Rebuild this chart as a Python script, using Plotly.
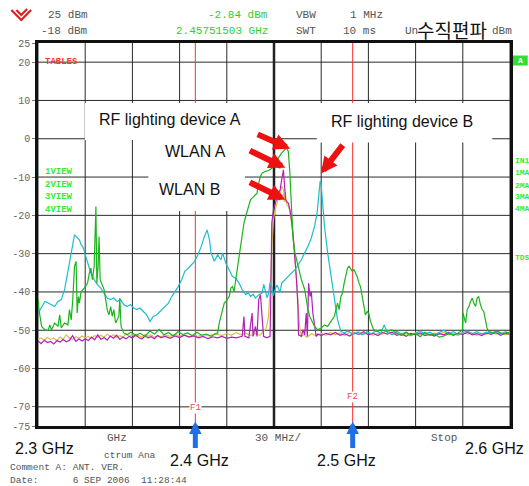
import plotly.graph_objects as go

# ---------------- data (frequency in MHz, level in dBm) ----------------
CYAN_F = [2300.2, 2302.3, 2304.4, 2306.5, 2308.6, 2310.6, 2312.7, 2314.8, 2316.9, 2318.0,
          2319.0, 2320.0, 2321.1, 2322.1, 2323.2, 2324.2, 2325.2, 2326.3, 2327.4, 2328.4,
          2329.4, 2331.5, 2333.6, 2335.7, 2337.8, 2339.9, 2342.0, 2344.0, 2346.2, 2348.2,
          2350.3, 2352.4, 2354.5, 2356.6, 2358.7, 2360.8, 2362.8, 2364.9, 2367.0, 2369.1,
          2371.2, 2373.3, 2375.3, 2376.6, 2378.7, 2380.8, 2382.9, 2385.0, 2387.1, 2389.1,
          2391.3, 2393.3, 2395.4, 2397.5, 2399.6, 2401.6, 2403.8, 2405.8, 2407.5, 2409.0,
          2410.0, 2412.1, 2414.2, 2416.3, 2417.3, 2419.4, 2421.5, 2423.6, 2425.7, 2427.8,
          2429.8, 2432.0, 2433.6, 2435.1, 2436.7, 2438.2, 2440.3, 2442.4, 2443.5, 2444.5,
          2445.6, 2446.6, 2447.5, 2448.6, 2449.5, 2450.7, 2451.8, 2452.8, 2453.8, 2454.9,
          2457.0, 2459.1, 2461.1, 2463.3, 2465.3, 2467.4, 2469.5, 2471.6, 2473.7, 2475.8,
          2477.4, 2478.3, 2479.3, 2479.9, 2481.0, 2482.1, 2484.1, 2486.2, 2488.3, 2490.4,
          2492.5, 2494.6, 2497, 2500, 2503, 2506, 2509, 2512, 2515, 2518,
          2520, 2522, 2525, 2528, 2531, 2534, 2537, 2540, 2543, 2546,
          2549, 2552, 2555, 2558, 2561, 2564, 2567, 2570, 2573, 2576,
          2579, 2582, 2585, 2588, 2591, 2594, 2597, 2600]
CYAN_L = [-45.5, -43.8, -42.5, -42.9, -43.3, -43.8, -42.5, -42.0, -39.4, -36.8,
          -34.2, -32.0, -29.0, -26.8, -25.1, -25.5, -25.9, -26.4, -27.7, -28.1,
          -29.4, -32.0, -35.1, -36.8, -38.1, -39.0, -40.3, -41.6, -42.0, -41.6,
          -42.5, -42.0, -43.3, -43.8, -43.3, -44.2, -44.6, -44.2, -45.1, -46.0,
          -47.7, -46.4, -46.0, -45.5, -44.6, -43.8, -42.9, -41.2, -39.9, -38.6,
          -36.8, -34.6, -33.8, -32.9, -32.0, -30.3, -28.1, -25.5, -23.8, -26.4,
          -29.8, -32.0, -30.3, -31.6, -29.8, -32.5, -34.2, -36.0, -36.4, -37.7,
          -39.4, -40.7, -40.2, -41.2, -40.6, -41.6, -40.7, -40.3, -38.0, -39.4,
          -41.5, -40.3, -37.5, -38.6, -41.0, -39.4, -38.2, -39.0, -40.2, -37.7,
          -36.8, -36.0, -35.1, -34.2, -32.9, -31.6, -29.8, -28.1, -25.9, -22.9,
          -19.4, -14.2, -11.1, -11.6, -17.7, -22.9, -29.8, -36.0, -42.0, -47.3,
          -50.3, -50.7, -50.2, -51.0, -50.5, -51.2, -50.4, -50.9, -50.1, -50.8,
          -48.6, -50.6, -51.1, -50.3, -50.9, -50.5, -51.3, -50.7, -50.2, -51.0,
          -50.5, -51.2, -50.6, -50.0, -50.9, -50.4, -51.1, -50.6, -50.2, -50.9,
          -50.4, -51.0, -50.5, -50.8, -50.3, -50.9, -50.4, -50.7]

GREEN_F = [2300.2, 2300.6, 2302.3, 2304.4, 2306.5, 2307.5, 2308.6, 2310.6, 2312.7, 2313.8,
           2314.8, 2316.9, 2319.0, 2320.0, 2321.1, 2322.1, 2323.2, 2324.2, 2324.9, 2325.7,
           2326.3, 2327.4, 2329.4, 2331.5, 2332.6, 2333.6, 2334.6, 2335.7, 2336.8, 2337.4,
           2338.2, 2338.8, 2339.5, 2340.9, 2342.0, 2343.0, 2344.0, 2345.1, 2346.2, 2347.2,
           2348.2, 2349.3, 2350.3, 2351.4, 2352.0, 2352.8, 2354.5, 2356.6, 2359, 2362,
           2365, 2368, 2371, 2374, 2377, 2380, 2383, 2386, 2389, 2392,
           2395, 2398, 2401, 2404, 2407, 2410, 2412.5, 2414.2, 2415.2, 2416.3,
           2417.3, 2418.4, 2419.4, 2420.4, 2421.5, 2422.6, 2423.6, 2424.6, 2425.7, 2426.7,
           2427.8, 2428.8, 2429.8, 2430.9, 2432.0, 2433.0, 2434.0, 2435.1, 2436.1, 2437.2,
           2438.2, 2439.2, 2440.3, 2441.4, 2442.4, 2444.5, 2446.6, 2448.6, 2450.7, 2452.8,
           2454.9, 2457.0, 2458.0, 2459.1, 2460.1, 2461.1, 2462.2, 2463.3, 2465.3, 2467.4,
           2469.5, 2470.5, 2471.6, 2472.7, 2473.7, 2475.8, 2477.9, 2479.9, 2482.1, 2484.1,
           2486.2, 2488.3, 2490.4, 2491.4, 2492.5, 2493.5, 2494.6, 2495.7, 2496.7, 2497.7,
           2498.7, 2499.8, 2500.9, 2501.9, 2502.9, 2504.0, 2505.0, 2506.1, 2507.1, 2508.1,
           2509.2, 2510.2, 2511.3, 2512.3, 2513.4, 2515.5, 2517.5, 2521.7, 2524.8, 2528,
           2531, 2534, 2537, 2540, 2543, 2546, 2549, 2552, 2555, 2558,
           2561, 2564, 2567, 2569.7, 2570.1, 2570.7, 2571.8, 2572.8, 2573.9, 2574.9,
           2576.0, 2577.0, 2578.1, 2579.1, 2580.1, 2581.2, 2582.3, 2583.3, 2584.3, 2585.4,
           2586.4, 2589, 2592, 2595, 2598, 2600]
GREEN_L = [-42.0, -44.6, -49.0, -49.9, -50.0, -48.6, -49.9, -48.1, -49.0, -46.0,
           -49.4, -48.1, -48.6, -44.6, -47.3, -42.0, -33.3, -32.0, -45.5, -41.2,
           -42.9, -39.9, -39.0, -37.7, -35.1, -33.8, -36.8, -33.3, -17.7, -37.7,
           -33.3, -25.5, -36.8, -38.6, -39.4, -42.0, -44.6, -46.0, -43.8, -46.4,
           -44.6, -48.1, -47.3, -46.4, -41.6, -49.0, -50.7, -51.2, -50.5, -51.3,
           -50.8, -51.6, -50.2, -51.0, -49.8, -51.2, -50.6, -51.5, -50.4, -51.1,
           -50.7, -51.4, -50.5, -51.3, -51.0, -51.6, -50.9, -50.7, -48.1, -46.4,
           -44.6, -42.9, -42.5, -42.0, -41.2, -39.0, -38.6, -39.9, -36.8, -35.1,
           -31.6, -29.0, -26.4, -22.0, -20.3, -19.0, -17.7, -15.9, -15.5, -15.1,
           -14.6, -14.2, -11.6, -9.8, -9.0, -8.5, -8.3, -7.7, -6.8, -5.0,
           -3.7, -2.9, -2.4, -3.3, -9.0, -17.7, -26.4, -29.8, -33.3, -36.8,
           -39.4, -42.0, -44.6, -46.4, -47.3, -49.0, -49.9, -49.4, -48.6, -49.0,
           -47.7, -46.4, -42.9, -44.6, -41.2, -40.3, -37.7, -36.0, -33.8, -33.3,
           -33.8, -34.6, -34.2, -35.1, -36.0, -37.7, -38.6, -41.2, -43.8, -46.0,
           -45.1, -45.5, -47.7, -49.0, -49.9, -50.3, -49.9, -50.3, -49.9, -50.8,
           -51.4, -50.6, -51.2, -50.9, -51.7, -50.5, -51.3, -51.0, -51.8, -51.5,
           -50.9, -51.2, -50.8, -49.9, -45.5, -46.4, -48.1, -44.6, -43.8, -42.5,
           -41.6, -42.9, -43.8, -41.6, -41.2, -43.3, -44.6, -45.1, -47.3, -49.4,
           -50.3, -50.8, -50.2, -51.0, -50.6, -50.9]

MAGENTA_F = [2300, 2302, 2304, 2306, 2308, 2310, 2312, 2314, 2316, 2318,
             2320, 2322, 2324, 2326, 2328, 2330, 2332, 2334, 2336, 2338,
             2340, 2342, 2344, 2346, 2348, 2350, 2352, 2354, 2356, 2358,
             2360, 2362, 2364, 2366, 2368, 2370, 2372, 2374, 2376, 2378,
             2381, 2384, 2387, 2390, 2393, 2396, 2399, 2402, 2405, 2408,
             2411, 2414, 2417, 2420, 2423, 2426, 2429.8, 2430.9, 2431.5, 2434.0,
             2436.1, 2436.7, 2438.2, 2439.2, 2440.3, 2441.4, 2442.4, 2443.4, 2445.5, 2447.5,
             2448.0, 2448.6, 2449.7, 2450.7, 2451.8, 2452.8, 2453.9, 2454.9, 2456.0, 2456.6,
             2457.4, 2458.0, 2459.1, 2460.1, 2461.1, 2462.2, 2463.3, 2464.3, 2465.2, 2465.6,
             2467.4, 2468.5, 2469.5, 2470.5, 2471.2, 2472.0, 2472.9, 2473.7, 2474.7, 2475.8,
             2476.8, 2477.9, 2480, 2483, 2486, 2489, 2492, 2495, 2498, 2501,
             2504, 2507, 2510, 2513, 2516, 2519, 2522, 2525, 2528, 2531,
             2534, 2537, 2540, 2543, 2546, 2549, 2552, 2555, 2558, 2561,
             2564, 2567, 2570, 2573, 2576, 2579, 2582, 2585, 2588, 2591,
             2594, 2597, 2600]
MAGENTA_L = [-52.8, -53.5, -52.6, -53.2, -52.9, -53.6, -52.7, -53.1, -52.4, -53.0,
             -52.6, -51.4, -52.9, -52.3, -52.8, -52.2, -52.7, -51.8, -52.5, -51.2,
             -52.4, -51.9, -52.6, -51.5, -52.1, -51.3, -52.4, -51.8, -52.2, -51.6,
             -52.0, -51.2, -51.9, -52.3, -51.5, -52.0, -51.7, -52.2, -51.4, -51.9,
             -51.6, -52.1, -51.5, -51.9, -51.3, -51.8, -51.5, -52.0, -51.6, -52.2,
             -51.7, -52.0, -51.6, -52.1, -51.8, -52.0, -51.6, -46.4, -51.6, -52.0,
             -45.5, -51.6, -49.0, -51.6, -42.0, -40.7, -46.4, -51.6, -52.0, -51.6,
             -40.0, -22.0, -18.5, -16.8, -15.5, -14.2, -13.3, -10.7, -8.1, -11.6,
             -15.9, -16.4, -16.8, -18.5, -21.1, -25.5, -30.7, -36.8, -43.8, -51.2,
             -51.6, -49.9, -51.2, -45.5, -51.6, -37.7, -41.2, -39.9, -45.5, -48.1,
             -51.6, -51.0, -51.4, -50.8, -51.2, -50.6, -51.3, -50.9, -51.5, -50.7,
             -51.1, -50.4, -51.2, -50.8, -51.4, -50.6, -51.0, -50.5, -51.3, -50.9,
             -51.6, -50.8, -51.2, -50.7, -51.4, -51.0, -51.5, -50.9, -51.2, -50.6,
             -51.3, -50.8, -51.1, -50.5, -51.2, -50.9, -51.4, -50.7, -51.1, -50.6,
             -51.3, -50.8, -51.0]

YELLOW_F = [2300, 2302, 2304, 2306, 2308, 2310, 2312, 2314, 2316, 2318,
            2320, 2322, 2324, 2326, 2328, 2330, 2332, 2334, 2336, 2338,
            2340, 2342, 2344, 2346, 2348, 2350, 2352, 2354, 2356, 2358,
            2360, 2362, 2364, 2366, 2368, 2370, 2372, 2374, 2376, 2378,
            2381, 2384, 2387, 2390, 2393, 2396, 2399, 2402, 2405, 2408,
            2411, 2414, 2417, 2420, 2423, 2426, 2429, 2432, 2435, 2438,
            2441, 2443, 2445, 2446.5, 2447.3, 2448.0, 2448.6, 2449.7, 2450.7, 2451.8,
            2452.8, 2453.9, 2454.9, 2456.0, 2456.6, 2457.2, 2458.0, 2459.1, 2460.1, 2461.1,
            2462.2, 2463.3, 2464.3, 2465.3, 2466.3, 2467.4, 2469, 2471, 2474, 2477,
            2480, 2483, 2486, 2489, 2492, 2495, 2498, 2501, 2504, 2507,
            2510, 2513, 2516, 2519, 2522, 2525, 2528, 2531, 2534, 2537,
            2540, 2543, 2546, 2549, 2552, 2555, 2558, 2561, 2564, 2567,
            2570, 2573, 2576, 2579, 2582, 2585, 2588, 2591, 2594, 2597, 2600]
YELLOW_L = [-52.3, -52.0, -52.6, -51.9, -52.4, -52.1, -52.7, -51.8, -52.3, -51.2,
            -52.0, -52.4, -51.7, -52.1, -51.5, -52.0, -51.6, -52.2, -51.4, -51.9,
            -51.3, -51.8, -51.0, -51.7, -51.2, -51.9, -51.4, -51.8, -50.9, -51.6,
            -51.2, -51.7, -51.3, -51.9, -51.1, -51.6, -51.2, -51.8, -51.4, -51.7,
            -51.2, -51.6, -51.0, -51.5, -51.2, -51.7, -51.3, -51.6, -51.1, -51.5,
            -51.2, -51.0, -51.4, -50.8, -51.3, -50.6, -51.2, -50.7, -51.4, -50.9,
            -51.3, -50.5, -49.5, -46.5, -41.0, -36.0, -28.0, -21.0, -18.5, -16.5,
            -15.5, -14.2, -12.4, -13.2, -16.5, -14.0, -17.0, -17.7, -19.0, -22.0,
            -25.5, -30.7, -36.8, -43.8, -49.0, -51.6, -51.2, -51.8, -50.9, -51.5,
            -50.8, -51.3, -50.6, -51.2, -50.7, -51.4, -50.5, -51.0, -50.4, -51.1,
            -50.6, -51.3, -50.8, -51.0, -49.8, -51.2, -50.7, -51.3, -50.9, -51.5,
            -50.6, -51.2, -50.8, -51.4, -50.7, -51.1, -50.5, -51.2, -50.9, -51.4,
            -50.6, -51.0, -50.7, -51.3, -50.8, -51.1, -50.4, -51.0, -50.7, -51.2, -50.8]

X_GRID = [2300, 2330, 2360, 2390, 2420, 2450, 2480, 2510, 2540, 2570, 2600]
Y_GRID = [20, 10, 0, -10, -20, -30, -40, -50, -60, -70]
Y_TICKS = [25, 20, 10, 0, -10, -20, -30, -40, -50, -60, -70, -75]
Y_TICKTEXT = ["25", "20", "10", "0", "-10", "-20", "-30", "-40", "-50", "-60", "-70", "-75"]
MARKERS_F = [2400, 2500]
MARKER_NAMES = ["F1", "F2"]

for a, b in [(CYAN_F, CYAN_L), (GREEN_F, GREEN_L), (MAGENTA_F, MAGENTA_L), (YELLOW_F, YELLOW_L)]:
    assert len(a) == len(b), (len(a), len(b))

# ---------------- layout helpers ----------------
W, H = 529, 486
PL, PR, PT, PB = 31, 510, 43, 426


def xp(px):
    return (px - PL) / (PR - PL)


def yp(py):
    return (PB - py) / (PB - PT)


MONO = "Liberation Mono, DejaVu Sans Mono, monospace"
SANS = "Liberation Sans, Arial, sans-serif"
GRAY = "#555555"
LGREEN = "#33cc33"
VGREEN = "#33ee33"

fig = go.Figure()
series = [
    (YELLOW_F, YELLOW_L, "#d6c24c"),
    (MAGENTA_F, MAGENTA_L, "#b41fb4"),
    (CYAN_F, CYAN_L, "#1fbccc"),
    (GREEN_F, GREEN_L, "#1cb41c"),
]
for f, l, c in series:
    fig.add_trace(go.Scatter(x=f, y=l, mode="lines", line=dict(color=c, width=1.2),
                             hoverinfo="skip", showlegend=False))

shapes = []
for xv in X_GRID:
    shapes.append(dict(type="line", xref="x", yref="paper", x0=xv, x1=xv, y0=0, y1=1,
                       line=dict(color="#2a2a2a", width=1), layer="below"))
for yv in Y_GRID:
    shapes.append(dict(type="line", xref="paper", yref="y", x0=0, x1=1, y0=yv, y1=yv,
                       line=dict(color="#2a2a2a", width=1), layer="below"))
for fm in MARKERS_F:
    shapes.append(dict(type="line", xref="x", yref="paper", x0=fm, x1=fm, y0=0, y1=1,
                       line=dict(color="#ff3030", width=1), layer="below"))
# white label boxes (in page pixels: x0, x1, y0, y1)
for bx0, bx1, by0, by1 in [(78.5, 270, 103, 140), (143, 241, 140, 211),
                           (241, 270, 140, 174), (314, 492, 103, 142.5)]:
    shapes.append(dict(type="rect", xref="paper", yref="paper", x0=xp(bx0), x1=xp(bx1),
                       y0=yp(by1), y1=yp(by0), fillcolor="white", line=dict(width=0),
                       layer="below"))
# thick centre line
shapes.append(dict(type="line", xref="x", yref="paper", x0=2450, x1=2450, y0=0, y1=1,
                   line=dict(color="#222222", width=2.5), layer="below"))
# R&S style logo
pts1 = [(4, 10), (14, 20), (24, 10)]
pts2 = [(9, 10), (14, 15), (20, 9)]
for pts in (pts1, pts2):
    path = "M " + " L ".join(f"{xp(a):.4f},{yp(b):.4f}" for a, b in pts)
    shapes.append(dict(type="path", xref="paper", yref="paper", path=path,
                       line=dict(color="#e02020", width=2.2)))
# green "A" box on the right
shapes.append(dict(type="rect", xref="paper", yref="paper", x0=xp(513), x1=xp(528),
                   y0=yp(65.5), y1=yp(55.5), fillcolor="#33dd33", line=dict(width=0)))

ann = []


def txt(t, x, y, size=11, color=GRAY, family=MONO, anchor="left", pad=None):
    d = dict(text=t, x=xp(x), y=yp(y), xref="paper", yref="paper", showarrow=False,
             xanchor=anchor, yanchor="middle", font=dict(size=size, color=color, family=family))
    if pad is not None:
        d["borderpad"] = pad
    ann.append(d)


# header
txt("25 dBm", 39, 14.5)
txt("-18 dBm", 32, 31)
txt("-2.84 dBm", 266, 14.5, color=LGREEN, anchor="right")
txt("2.45751503 GHz", 266, 31, color=LGREEN, anchor="right")
txt("VBW", 291, 14.5)
txt("1 MHz", 346, 14.5)
txt("SWT", 291, 31)
txt("10 ms", 339, 31)
txt("Un", 401, 31)
txt("dBm", 490, 31)
txt("수직편파", 451, 29, size=19, color="#111111",
    family="Noto Sans CJK KR, Noto Sans CJK SC, sans-serif", anchor="center")

# in-plot labels
txt("<b>TABLES</b>", 36, 62, size=9, color="#ff3333")
for i, lab in enumerate(["1VIEW", "2VIEW", "3VIEW", "4VIEW"]):
    txt(f"<b>{lab}</b>", 36, [172, 185, 197, 209.5][i], size=9, color=VGREEN)
for lab, yy in [("IN1", 160), ("1MA", 172.5), ("2MA", 185), ("3MA", 196), ("4MA", 208.5), ("TDS", 257)]:
    txt(f"<b>{lab}</b>", 513, yy, size=8, color=VGREEN)
txt("<b>A</b>", 520.5, 60.5, size=8, color="#ffffff", anchor="center")

txt("RF lighting device A", 164.5, 119, size=16, color="#111111", family=SANS, anchor="center")
txt("RF lighting device B", 400, 121, size=16, color="#111111", family=SANS, anchor="center")
txt("WLAN A", 191, 151, size=16, color="#111111", family=SANS, anchor="center")
txt("WLAN B", 185, 189, size=16, color="#111111", family=SANS, anchor="center")

# bottom
txt("GHz", 99, 438)
txt("30 MHz/", 249, 438)
txt("Stop", 428, 438)
txt("ctrum Ana", 97, 455.5, size=9.5, pad=0)
txt("Comment A: ANT. VER.", 2, 467.8, size=9.5, pad=0)
txt("Date:\u00a0\u00a0\u00a0\u00a0\u00a0\u00a06 SEP 2006\u00a0\u00a011:28:44", 2, 480, size=9.5, pad=0)
txt("2.3 GHz", 37.5, 448, size=16, color="#111111", family=SANS, anchor="center")
txt("2.4 GHz", 194.5, 460, size=16, color="#111111", family=SANS, anchor="center")
txt("2.5 GHz", 344, 460, size=16, color="#111111", family=SANS, anchor="center")
txt("2.6 GHz", 494, 448, size=16, color="#111111", family=SANS, anchor="center")

# marker labels
for fm, nm, lev in zip(MARKERS_F, MARKER_NAMES, [-70.2, -67.4]):
    ann.append(dict(text=nm, x=fm, y=lev, xref="x", yref="y", showarrow=False,
                    font=dict(size=9, color="#ff4444", family=MONO), bgcolor="white",
                    borderpad=0))

# blue arrows under the markers
for fm in MARKERS_F:
    ann.append(dict(text="", x=fm, y=-73.8, xref="x", yref="y", showarrow=True,
                    ax=0, ay=28, arrowhead=2, arrowsize=0.5, arrowwidth=5,
                    arrowcolor="#1f6fe6", standoff=0))

# red arrows pointing to the peaks
for (fx, ly, axx, ayy) in [(2460.3, -2.6, -34, -15), (2457.2, -7.6, -37, -18),
                           (2457.2, -15.9, -37, -18), (2479.8, -9.1, 23, -30)]:
    ann.append(dict(text="", x=fx, y=ly, xref="x", yref="y", showarrow=True,
                    ax=axx, ay=ayy, arrowhead=2, arrowsize=0.55, arrowwidth=6,
                    arrowcolor="#ee1111", standoff=0))

fig.update_layout(
    width=W, height=H,
    margin=dict(l=PL, r=W - PR, t=PT, b=H - PB, pad=0),
    paper_bgcolor="white", plot_bgcolor="white",
    showlegend=False,
    shapes=shapes, annotations=ann,
    xaxis=dict(range=[2300, 2600], showgrid=False, zeroline=False, showticklabels=False,
               ticks="", showline=True, mirror=True, linecolor="#111111", linewidth=2.5),
    yaxis=dict(range=[-75, 25], showgrid=False, zeroline=False, tickmode="array",
               tickvals=Y_TICKS, ticktext=Y_TICKTEXT, ticks="outside", ticklen=3,
               tickcolor="#777777", tickfont=dict(size=10, color="#666666", family=MONO),
               showline=True, mirror=True, linecolor="#111111", linewidth=2.5),
)

fig.write_html("out.html")
